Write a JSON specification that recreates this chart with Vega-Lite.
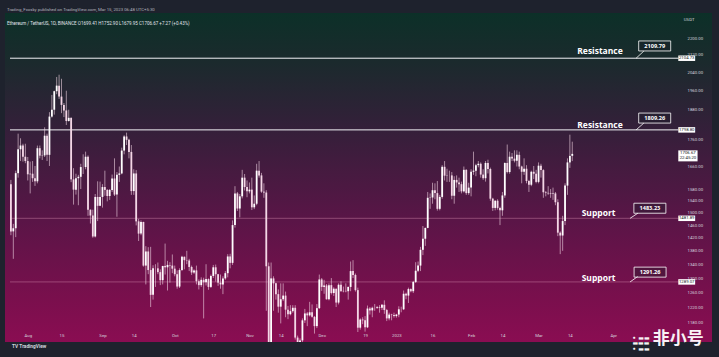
{
 "$schema": "https://vega.github.io/schema/vega-lite/v6.json",
 "width": 707,
 "height": 329,
 "autosize": {"type": "none"},
 "padding": {"left": 5, "top": 13, "right": 7, "bottom": 15},
 "background": "#1e222d",
 "view": {"stroke": null, "fill": {"gradient": "linear", "x1": 0, "y1": 0, "x2": 0, "y2": 1, "stops": [{"offset": 0, "color": "#0c3028"}, {"offset": 0.15, "color": "#1b2a2d"}, {"offset": 0.36, "color": "#351f3a"}, {"offset": 0.63, "color": "#5a1547"}, {"offset": 0.87, "color": "#7a0f4d"}, {"offset": 1, "color": "#8a0d52"}]}},
 "title": {"text": "Trading_Fxosky published on TradingView.com, Mar 15, 2023 06:48 UTC+5:30", "subtitle": "Ethereum / TetherUS, 1D, BINANCE   O1699.41  H1752.90  L1679.95  C1706.67  +7.27 (+0.43%)", "anchor": "start", "frame": "group", "offset": -12, "dx": 2, "font": "Roboto", "fontSize": 4.3, "fontWeight": "normal", "color": "#b2b5be", "subtitleFont": "Roboto", "subtitleFontSize": 4.5, "subtitleColor": "#e0e3eb", "subtitlePadding": 8},
 "datasets": {
  "candles": [
   {"d":"2022-07-25","o":1597,"h":1612,"l":1428,"c":1440},
   {"d":"2022-07-26","o":1440,"h":1464,"l":1356,"c":1450},
   {"d":"2022-07-27","o":1450,"h":1645,"l":1422,"c":1636},
   {"d":"2022-07-28","o":1636,"h":1784,"l":1620,"c":1724},
   {"d":"2022-07-29","o":1724,"h":1766,"l":1680,"c":1738},
   {"d":"2022-07-30","o":1738,"h":1745,"l":1678,"c":1696},
   {"d":"2022-07-31","o":1696,"h":1745,"l":1672,"c":1680},
   {"d":"2022-08-01","o":1680,"h":1695,"l":1610,"c":1632},
   {"d":"2022-08-02","o":1632,"h":1678,"l":1565,"c":1634},
   {"d":"2022-08-03","o":1634,"h":1680,"l":1605,"c":1618},
   {"d":"2022-08-04","o":1618,"h":1662,"l":1591,"c":1607},
   {"d":"2022-08-05","o":1607,"h":1738,"l":1600,"c":1728},
   {"d":"2022-08-06","o":1728,"h":1738,"l":1690,"c":1700},
   {"d":"2022-08-07","o":1700,"h":1720,"l":1684,"c":1701},
   {"d":"2022-08-08","o":1701,"h":1809,"l":1695,"c":1776},
   {"d":"2022-08-09","o":1776,"h":1784,"l":1680,"c":1703},
   {"d":"2022-08-10","o":1703,"h":1870,"l":1662,"c":1852},
   {"d":"2022-08-11","o":1852,"h":1942,"l":1848,"c":1880},
   {"d":"2022-08-12","o":1880,"h":1960,"l":1860,"c":1958},
   {"d":"2022-08-13","o":1958,"h":2020,"l":1945,"c":1982},
   {"d":"2022-08-14","o":1982,"h":2030,"l":1925,"c":1935},
   {"d":"2022-08-15","o":1935,"h":2012,"l":1866,"c":1900},
   {"d":"2022-08-16","o":1900,"h":1908,"l":1850,"c":1877},
   {"d":"2022-08-17","o":1877,"h":1960,"l":1818,"c":1834},
   {"d":"2022-08-18","o":1834,"h":1880,"l":1832,"c":1847},
   {"d":"2022-08-19","o":1847,"h":1848,"l":1604,"c":1614},
   {"d":"2022-08-20","o":1614,"h":1654,"l":1527,"c":1578},
   {"d":"2022-08-21","o":1578,"h":1634,"l":1561,"c":1618},
   {"d":"2022-08-22","o":1618,"h":1630,"l":1525,"c":1623},
   {"d":"2022-08-23","o":1623,"h":1670,"l":1580,"c":1658},
   {"d":"2022-08-24","o":1658,"h":1705,"l":1633,"c":1658},
   {"d":"2022-08-25","o":1658,"h":1715,"l":1650,"c":1696},
   {"d":"2022-08-26","o":1696,"h":1701,"l":1490,"c":1510},
   {"d":"2022-08-27","o":1510,"h":1511,"l":1465,"c":1491},
   {"d":"2022-08-28","o":1491,"h":1510,"l":1420,"c":1424},
   {"d":"2022-08-29","o":1424,"h":1563,"l":1421,"c":1553},
   {"d":"2022-08-30","o":1553,"h":1607,"l":1473,"c":1523},
   {"d":"2022-08-31","o":1523,"h":1606,"l":1522,"c":1553},
   {"d":"2022-09-01","o":1553,"h":1597,"l":1517,"c":1587},
   {"d":"2022-09-02","o":1587,"h":1645,"l":1557,"c":1577},
   {"d":"2022-09-03","o":1577,"h":1580,"l":1538,"c":1556},
   {"d":"2022-09-04","o":1556,"h":1580,"l":1543,"c":1577},
   {"d":"2022-09-05","o":1577,"h":1631,"l":1570,"c":1617},
   {"d":"2022-09-06","o":1617,"h":1690,"l":1556,"c":1561},
   {"d":"2022-09-07","o":1561,"h":1640,"l":1487,"c":1630},
   {"d":"2022-09-08","o":1630,"h":1660,"l":1605,"c":1635},
   {"d":"2022-09-09","o":1635,"h":1730,"l":1632,"c":1719},
   {"d":"2022-09-10","o":1719,"h":1778,"l":1705,"c":1773},
   {"d":"2022-09-11","o":1773,"h":1788,"l":1740,"c":1760},
   {"d":"2022-09-12","o":1760,"h":1764,"l":1690,"c":1714},
   {"d":"2022-09-13","o":1714,"h":1740,"l":1560,"c":1573},
   {"d":"2022-09-14","o":1573,"h":1650,"l":1560,"c":1635},
   {"d":"2022-09-15","o":1635,"h":1647,"l":1459,"c":1472},
   {"d":"2022-09-16","o":1472,"h":1480,"l":1410,"c":1433},
   {"d":"2022-09-17","o":1433,"h":1475,"l":1428,"c":1470},
   {"d":"2022-09-18","o":1470,"h":1471,"l":1333,"c":1336},
   {"d":"2022-09-19","o":1336,"h":1394,"l":1282,"c":1378},
   {"d":"2022-09-20","o":1378,"h":1391,"l":1311,"c":1323},
   {"d":"2022-09-21","o":1323,"h":1392,"l":1220,"c":1253},
   {"d":"2022-09-22","o":1253,"h":1337,"l":1240,"c":1328},
   {"d":"2022-09-23","o":1328,"h":1340,"l":1275,"c":1328},
   {"d":"2022-09-24","o":1328,"h":1345,"l":1311,"c":1317},
   {"d":"2022-09-25","o":1317,"h":1325,"l":1280,"c":1294},
   {"d":"2022-09-26","o":1294,"h":1335,"l":1282,"c":1335},
   {"d":"2022-09-27","o":1335,"h":1402,"l":1310,"c":1331},
   {"d":"2022-09-28","o":1331,"h":1350,"l":1265,"c":1338},
   {"d":"2022-09-29","o":1338,"h":1346,"l":1287,"c":1336},
   {"d":"2022-09-30","o":1336,"h":1369,"l":1314,"c":1327},
   {"d":"2022-10-01","o":1327,"h":1336,"l":1305,"c":1311},
   {"d":"2022-10-02","o":1311,"h":1322,"l":1270,"c":1276},
   {"d":"2022-10-03","o":1276,"h":1328,"l":1272,"c":1323},
   {"d":"2022-10-04","o":1323,"h":1365,"l":1320,"c":1362},
   {"d":"2022-10-05","o":1362,"h":1363,"l":1325,"c":1352},
   {"d":"2022-10-06","o":1352,"h":1380,"l":1340,"c":1351},
   {"d":"2022-10-07","o":1351,"h":1356,"l":1320,"c":1332},
   {"d":"2022-10-08","o":1332,"h":1336,"l":1309,"c":1316},
   {"d":"2022-10-09","o":1316,"h":1325,"l":1312,"c":1322},
   {"d":"2022-10-10","o":1322,"h":1336,"l":1282,"c":1291},
   {"d":"2022-10-11","o":1291,"h":1296,"l":1268,"c":1280},
   {"d":"2022-10-12","o":1280,"h":1302,"l":1275,"c":1295},
   {"d":"2022-10-13","o":1295,"h":1301,"l":1190,"c":1288},
   {"d":"2022-10-14","o":1288,"h":1340,"l":1279,"c":1297},
   {"d":"2022-10-15","o":1297,"h":1299,"l":1267,"c":1275},
   {"d":"2022-10-16","o":1275,"h":1310,"l":1272,"c":1306},
   {"d":"2022-10-17","o":1306,"h":1338,"l":1300,"c":1331},
   {"d":"2022-10-18","o":1331,"h":1339,"l":1290,"c":1311},
   {"d":"2022-10-19","o":1311,"h":1312,"l":1278,"c":1287},
   {"d":"2022-10-20","o":1287,"h":1310,"l":1270,"c":1282},
   {"d":"2022-10-21","o":1282,"h":1305,"l":1255,"c":1299},
   {"d":"2022-10-22","o":1299,"h":1320,"l":1295,"c":1314},
   {"d":"2022-10-23","o":1314,"h":1370,"l":1302,"c":1363},
   {"d":"2022-10-24","o":1363,"h":1371,"l":1328,"c":1344},
   {"d":"2022-10-25","o":1344,"h":1475,"l":1338,"c":1460},
   {"d":"2022-10-26","o":1460,"h":1590,"l":1452,"c":1565},
   {"d":"2022-10-27","o":1565,"h":1570,"l":1506,"c":1514},
   {"d":"2022-10-28","o":1514,"h":1563,"l":1485,"c":1555},
   {"d":"2022-10-29","o":1555,"h":1648,"l":1548,"c":1620},
   {"d":"2022-10-30","o":1620,"h":1633,"l":1575,"c":1587},
   {"d":"2022-10-31","o":1587,"h":1610,"l":1552,"c":1572},
   {"d":"2022-11-01","o":1572,"h":1603,"l":1565,"c":1578},
   {"d":"2022-11-02","o":1578,"h":1620,"l":1509,"c":1518},
   {"d":"2022-11-03","o":1518,"h":1558,"l":1512,"c":1530},
   {"d":"2022-11-04","o":1530,"h":1670,"l":1525,"c":1645},
   {"d":"2022-11-05","o":1645,"h":1680,"l":1620,"c":1628},
   {"d":"2022-11-06","o":1628,"h":1637,"l":1567,"c":1571},
   {"d":"2022-11-07","o":1571,"h":1600,"l":1550,"c":1568},
   {"d":"2022-11-08","o":1568,"h":1576,"l":1210,"c":1334},
   {"d":"2022-11-09","o":1334,"h":1345,"l":1073,"c":1102},
   {"d":"2022-11-10","o":1102,"h":1345,"l":1094,"c":1299},
   {"d":"2022-11-11","o":1299,"h":1305,"l":1210,"c":1285},
   {"d":"2022-11-12","o":1285,"h":1287,"l":1240,"c":1255},
   {"d":"2022-11-13","o":1255,"h":1268,"l":1205,"c":1221},
   {"d":"2022-11-14","o":1221,"h":1285,"l":1177,"c":1241},
   {"d":"2022-11-15","o":1241,"h":1285,"l":1236,"c":1251},
   {"d":"2022-11-16","o":1251,"h":1262,"l":1193,"c":1213},
   {"d":"2022-11-17","o":1213,"h":1223,"l":1188,"c":1201},
   {"d":"2022-11-18","o":1201,"h":1225,"l":1198,"c":1209},
   {"d":"2022-11-19","o":1209,"h":1225,"l":1205,"c":1218},
   {"d":"2022-11-20","o":1218,"h":1225,"l":1136,"c":1141},
   {"d":"2022-11-21","o":1141,"h":1146,"l":1073,"c":1108},
   {"d":"2022-11-22","o":1108,"h":1139,"l":1083,"c":1134},
   {"d":"2022-11-23","o":1134,"h":1190,"l":1130,"c":1185},
   {"d":"2022-11-24","o":1185,"h":1215,"l":1178,"c":1203},
   {"d":"2022-11-25","o":1203,"h":1207,"l":1170,"c":1198},
   {"d":"2022-11-26","o":1198,"h":1234,"l":1195,"c":1206},
   {"d":"2022-11-27","o":1206,"h":1227,"l":1192,"c":1194},
   {"d":"2022-11-28","o":1194,"h":1196,"l":1151,"c":1170},
   {"d":"2022-11-29","o":1170,"h":1228,"l":1165,"c":1217},
   {"d":"2022-11-30","o":1217,"h":1310,"l":1215,"c":1296},
   {"d":"2022-12-01","o":1296,"h":1300,"l":1264,"c":1275},
   {"d":"2022-12-02","o":1275,"h":1295,"l":1256,"c":1279},
   {"d":"2022-12-03","o":1279,"h":1283,"l":1240,"c":1241},
   {"d":"2022-12-04","o":1241,"h":1285,"l":1238,"c":1280},
   {"d":"2022-12-05","o":1280,"h":1300,"l":1254,"c":1258},
   {"d":"2022-12-06","o":1258,"h":1274,"l":1250,"c":1270},
   {"d":"2022-12-07","o":1270,"h":1270,"l":1220,"c":1232},
   {"d":"2022-12-08","o":1232,"h":1285,"l":1227,"c":1281},
   {"d":"2022-12-09","o":1281,"h":1291,"l":1262,"c":1263},
   {"d":"2022-12-10","o":1263,"h":1276,"l":1260,"c":1264},
   {"d":"2022-12-11","o":1264,"h":1285,"l":1260,"c":1263},
   {"d":"2022-12-12","o":1263,"h":1276,"l":1240,"c":1275},
   {"d":"2022-12-13","o":1275,"h":1348,"l":1263,"c":1320},
   {"d":"2022-12-14","o":1320,"h":1352,"l":1300,"c":1309},
   {"d":"2022-12-15","o":1309,"h":1313,"l":1262,"c":1266},
   {"d":"2022-12-16","o":1266,"h":1273,"l":1155,"c":1166},
   {"d":"2022-12-17","o":1166,"h":1190,"l":1161,"c":1187},
   {"d":"2022-12-18","o":1187,"h":1193,"l":1175,"c":1185},
   {"d":"2022-12-19","o":1185,"h":1196,"l":1156,"c":1167},
   {"d":"2022-12-20","o":1167,"h":1224,"l":1165,"c":1216},
   {"d":"2022-12-21","o":1216,"h":1220,"l":1200,"c":1211},
   {"d":"2022-12-22","o":1211,"h":1221,"l":1193,"c":1218},
   {"d":"2022-12-23","o":1218,"h":1228,"l":1210,"c":1218},
   {"d":"2022-12-24","o":1218,"h":1223,"l":1215,"c":1220},
   {"d":"2022-12-25","o":1220,"h":1225,"l":1205,"c":1218},
   {"d":"2022-12-26","o":1218,"h":1228,"l":1212,"c":1226},
   {"d":"2022-12-27","o":1226,"h":1238,"l":1202,"c":1212},
   {"d":"2022-12-28","o":1212,"h":1215,"l":1183,"c":1190},
   {"d":"2022-12-29","o":1190,"h":1205,"l":1185,"c":1200},
   {"d":"2022-12-30","o":1200,"h":1202,"l":1185,"c":1199},
   {"d":"2022-12-31","o":1199,"h":1205,"l":1192,"c":1196},
   {"d":"2023-01-01","o":1196,"h":1202,"l":1192,"c":1200},
   {"d":"2023-01-02","o":1200,"h":1222,"l":1193,"c":1214},
   {"d":"2023-01-03","o":1214,"h":1221,"l":1206,"c":1214},
   {"d":"2023-01-04","o":1214,"h":1265,"l":1212,"c":1256},
   {"d":"2023-01-05","o":1256,"h":1259,"l":1241,"c":1251},
   {"d":"2023-01-06","o":1251,"h":1273,"l":1231,"c":1269},
   {"d":"2023-01-07","o":1269,"h":1271,"l":1260,"c":1263},
   {"d":"2023-01-08","o":1263,"h":1292,"l":1258,"c":1289},
   {"d":"2023-01-09","o":1289,"h":1346,"l":1286,"c":1321},
   {"d":"2023-01-10","o":1321,"h":1348,"l":1317,"c":1336},
   {"d":"2023-01-11","o":1336,"h":1392,"l":1320,"c":1383},
   {"d":"2023-01-12","o":1383,"h":1457,"l":1367,"c":1417},
   {"d":"2023-01-13","o":1417,"h":1452,"l":1395,"c":1451},
   {"d":"2023-01-14","o":1451,"h":1570,"l":1450,"c":1550},
   {"d":"2023-01-15","o":1550,"h":1565,"l":1513,"c":1551},
   {"d":"2023-01-16","o":1551,"h":1602,"l":1530,"c":1576},
   {"d":"2023-01-17","o":1576,"h":1600,"l":1545,"c":1566},
   {"d":"2023-01-18","o":1566,"h":1608,"l":1507,"c":1513},
   {"d":"2023-01-19","o":1513,"h":1560,"l":1508,"c":1553},
   {"d":"2023-01-20","o":1553,"h":1665,"l":1547,"c":1659},
   {"d":"2023-01-21","o":1659,"h":1680,"l":1610,"c":1627},
   {"d":"2023-01-22","o":1627,"h":1652,"l":1605,"c":1628},
   {"d":"2023-01-23","o":1628,"h":1645,"l":1605,"c":1628},
   {"d":"2023-01-24","o":1628,"h":1640,"l":1545,"c":1557},
   {"d":"2023-01-25","o":1557,"h":1625,"l":1530,"c":1612},
   {"d":"2023-01-26","o":1612,"h":1628,"l":1585,"c":1603},
   {"d":"2023-01-27","o":1603,"h":1620,"l":1570,"c":1597},
   {"d":"2023-01-28","o":1597,"h":1606,"l":1565,"c":1572},
   {"d":"2023-01-29","o":1572,"h":1660,"l":1568,"c":1648},
   {"d":"2023-01-30","o":1648,"h":1650,"l":1560,"c":1566},
   {"d":"2023-01-31","o":1566,"h":1602,"l":1560,"c":1585},
   {"d":"2023-02-01","o":1585,"h":1650,"l":1555,"c":1641},
   {"d":"2023-02-02","o":1641,"h":1715,"l":1630,"c":1645},
   {"d":"2023-02-03","o":1645,"h":1670,"l":1625,"c":1665},
   {"d":"2023-02-04","o":1665,"h":1680,"l":1657,"c":1670},
   {"d":"2023-02-05","o":1670,"h":1675,"l":1620,"c":1631},
   {"d":"2023-02-06","o":1631,"h":1650,"l":1612,"c":1618},
   {"d":"2023-02-07","o":1618,"h":1680,"l":1606,"c":1673},
   {"d":"2023-02-08","o":1673,"h":1685,"l":1635,"c":1651},
   {"d":"2023-02-09","o":1651,"h":1656,"l":1540,"c":1547},
   {"d":"2023-02-10","o":1547,"h":1550,"l":1506,"c":1516},
   {"d":"2023-02-11","o":1516,"h":1542,"l":1508,"c":1540},
   {"d":"2023-02-12","o":1540,"h":1545,"l":1510,"c":1516},
   {"d":"2023-02-13","o":1516,"h":1520,"l":1460,"c":1508},
   {"d":"2023-02-14","o":1508,"h":1570,"l":1490,"c":1558},
   {"d":"2023-02-15","o":1558,"h":1675,"l":1550,"c":1673},
   {"d":"2023-02-16","o":1673,"h":1742,"l":1635,"c":1640},
   {"d":"2023-02-17","o":1640,"h":1715,"l":1634,"c":1696},
   {"d":"2023-02-18","o":1696,"h":1710,"l":1680,"c":1689},
   {"d":"2023-02-19","o":1689,"h":1720,"l":1675,"c":1681},
   {"d":"2023-02-20","o":1681,"h":1720,"l":1660,"c":1703},
   {"d":"2023-02-21","o":1703,"h":1715,"l":1650,"c":1660},
   {"d":"2023-02-22","o":1660,"h":1663,"l":1600,"c":1641},
   {"d":"2023-02-23","o":1641,"h":1690,"l":1630,"c":1652},
   {"d":"2023-02-24","o":1652,"h":1665,"l":1600,"c":1608},
   {"d":"2023-02-25","o":1608,"h":1612,"l":1570,"c":1595},
   {"d":"2023-02-26","o":1595,"h":1645,"l":1590,"c":1641},
   {"d":"2023-02-27","o":1641,"h":1662,"l":1615,"c":1634},
   {"d":"2023-02-28","o":1634,"h":1648,"l":1600,"c":1605},
   {"d":"2023-03-01","o":1605,"h":1675,"l":1600,"c":1663},
   {"d":"2023-03-02","o":1663,"h":1670,"l":1620,"c":1647},
   {"d":"2023-03-03","o":1647,"h":1650,"l":1550,"c":1569},
   {"d":"2023-03-04","o":1569,"h":1573,"l":1555,"c":1567},
   {"d":"2023-03-05","o":1567,"h":1590,"l":1560,"c":1565},
   {"d":"2023-03-06","o":1565,"h":1580,"l":1550,"c":1563},
   {"d":"2023-03-07","o":1563,"h":1585,"l":1543,"c":1565},
   {"d":"2023-03-08","o":1565,"h":1570,"l":1525,"c":1535},
   {"d":"2023-03-09","o":1535,"h":1545,"l":1425,"c":1436},
   {"d":"2023-03-10","o":1436,"h":1440,"l":1370,"c":1427},
   {"d":"2023-03-11","o":1427,"h":1490,"l":1380,"c":1473},
   {"d":"2023-03-12","o":1473,"h":1600,"l":1460,"c":1592},
   {"d":"2023-03-13","o":1592,"h":1690,"l":1560,"c":1675},
   {"d":"2023-03-14","o":1675,"h":1780,"l":1655,"c":1699},
   {"d":"2023-03-15","o":1699.41,"h":1752.9,"l":1679.95,"c":1706.67}
  ],
  "levels": [
   {"p": 2104.73, "k": "r"},
   {"p": 1798.8, "k": "r"},
   {"p": 1481.89, "k": "s"},
   {"p": 1289.07, "k": "s"}
  ],
  "callouts": [
   {"v": "2109.79", "n": "Resistance", "lvl": 2104.73, "td": "2023-04-18T05:00:00Z", "tp": 2162, "nd": "2023-03-26T12:00:00Z", "np": 2138, "pd": "2023-04-13T17:00:00Z", "pp": 2138, "qd": "2023-04-10T12:00:00Z"},
   {"v": "1809.26", "n": "Resistance", "lvl": 1798.8, "td": "2023-04-18T05:00:00Z", "tp": 1846, "nd": "2023-03-26T12:00:00Z", "np": 1818, "pd": "2023-04-13T17:00:00Z", "pp": 1826, "qd": "2023-04-10T12:00:00Z"},
   {"v": "1483.23", "n": "Support", "lvl": 1481.89, "td": "2023-04-16T05:00:00Z", "tp": 1515, "nd": "2023-03-25T22:00:00Z", "np": 1499, "pd": "2023-04-11T07:00:00Z", "pp": 1499, "qd": "2023-04-08T00:00:00Z"},
   {"v": "1291.26", "n": "Support", "lvl": 1289.07, "td": "2023-04-16T07:00:00Z", "tp": 1317, "nd": "2023-03-25T22:00:00Z", "np": 1300, "pd": "2023-04-11T07:00:00Z", "pp": 1305, "qd": "2023-04-08T00:00:00Z"}
  ],
  "tags": [
   {"t": "2104.73", "p": 2104.73},
   {"t": "1798.80", "p": 1798.8},
   {"t": "1481.89", "p": 1481.89},
   {"t": "1289.07", "p": 1289.07}
  ],
  "last": [
   {"t": "1706.67", "s": "22:45:20", "p": 1706.67}
  ],
  "notes": [
   {"k": "usdt", "t": "USDT", "d": "2023-05-02T12:00:00Z", "p": 2289},
   {"k": "tv", "t": "TV  TradingView", "d": "2022-07-25T12:00:00Z", "p": 1117},
   {"k": "wm", "t": "非小号", "d": "2023-04-28T00:00:00Z", "p": 1138},
   {"k": "icon", "t": "• ▬▬\n▬▬▬\n• ▬▬", "d": "2023-04-12T12:00:00Z", "p": 1140}
  ]
 },
 "layer": [
  {
   "data": {"name": "levels"},
   "transform": [{"filter": "datum.k == 'r'"}],
   "mark": {"type": "rule", "color": "#f2f2f6", "strokeWidth": 1},
   "encoding": {
    "y": {"field": "p", "type": "quantitative", "scale": {"type": "log", "domain": [1130, 2324], "nice": false},
     "axis": {"orient": "right", "offset": -28, "title": null, "grid": false, "ticks": false, "domain": false, "labelPadding": 3, "labelFontSize": 4.3, "labelFont": "Roboto", "labelColor": "#d6d6de", "labelAlign": "left", "labelOverlap": false, "labelFlush": false, "format": ".2f",
      "values": [1180, 1220, 1260, 1300, 1340, 1380, 1420, 1460, 1500, 1540, 1580, 1660, 1760, 1880, 1960, 2040, 2120, 2200]}},
    "x": {"datum": {"year": 2022, "month": 7, "date": 24, "hours": 15, "utc": true}, "type": "temporal", "scale": {"type": "utc", "domain": [{"year": 2022, "month": 7, "date": 24, "hours": 15, "utc": true}, {"year": 2023, "month": 5, "date": 9, "hours": 22, "utc": true}]},
     "axis": {"orient": "bottom", "offset": -9, "title": null, "grid": false, "ticks": false, "domain": false, "labelPadding": 0, "labelFontSize": 4.3, "labelFont": "Roboto", "labelColor": "#d6d6de", "labelOverlap": false, "labelFlush": false,
      "values": [{"year": 2022, "month": 8, "date": 1, "utc": true}, {"year": 2022, "month": 8, "date": 15, "utc": true}, {"year": 2022, "month": 9, "date": 1, "utc": true}, {"year": 2022, "month": 9, "date": 14, "utc": true}, {"year": 2022, "month": 10, "date": 1, "utc": true}, {"year": 2022, "month": 10, "date": 17, "utc": true}, {"year": 2022, "month": 11, "date": 1, "utc": true}, {"year": 2022, "month": 11, "date": 14, "utc": true}, {"year": 2022, "month": 12, "date": 1, "utc": true}, {"year": 2022, "month": 12, "date": 19, "utc": true}, {"year": 2023, "month": 1, "date": 1, "utc": true}, {"year": 2023, "month": 1, "date": 16, "utc": true}, {"year": 2023, "month": 2, "date": 1, "utc": true}, {"year": 2023, "month": 2, "date": 14, "utc": true}, {"year": 2023, "month": 3, "date": 1, "utc": true}, {"year": 2023, "month": 3, "date": 14, "utc": true}, {"year": 2023, "month": 4, "date": 1, "utc": true}],
      "labelExpr": "utcdate(datum.value) == 1 ? (utcmonth(datum.value) == 0 ? utcFormat(datum.value, '%Y') : utcFormat(datum.value, '%b')) : utcFormat(datum.value, '%d')"}},
    "x2": {"datum": {"year": 2023, "month": 4, "date": 28, "utc": true}}
   }
  },
  {
   "data": {"name": "levels"},
   "transform": [{"filter": "datum.k == 's'"}],
   "mark": {"type": "rule", "color": "#d58fb0", "strokeWidth": 0.8, "opacity": 0.55},
   "encoding": {
    "y": {"field": "p", "type": "quantitative", "scale": {"type": "log", "domain": [1130, 2324], "nice": false}},
    "x": {"datum": {"year": 2022, "month": 7, "date": 24, "hours": 15, "utc": true}, "type": "temporal", "scale": {"type": "utc", "domain": [{"year": 2022, "month": 7, "date": 24, "hours": 15, "utc": true}, {"year": 2023, "month": 5, "date": 9, "hours": 22, "utc": true}]}},
    "x2": {"datum": {"year": 2023, "month": 4, "date": 28, "utc": true}}
   }
  },
  {
   "data": {"name": "candles"},
   "mark": {"type": "rule", "color": "#f1d6e4", "strokeWidth": 0.7, "opacity": 0.85, "clip": true},
   "encoding": {
    "x": {"field": "d", "type": "temporal", "scale": {"type": "utc", "domain": [{"year": 2022, "month": 7, "date": 24, "hours": 15, "utc": true}, {"year": 2023, "month": 5, "date": 9, "hours": 22, "utc": true}]}},
    "y": {"field": "l", "type": "quantitative", "scale": {"type": "log", "domain": [1130, 2324], "nice": false}},
    "y2": {"field": "h"}
   }
  },
  {
   "data": {"name": "candles"},
   "mark": {"type": "bar", "size": 1.8, "clip": true},
   "encoding": {
    "x": {"field": "d", "type": "temporal", "scale": {"type": "utc", "domain": [{"year": 2022, "month": 7, "date": 24, "hours": 15, "utc": true}, {"year": 2023, "month": 5, "date": 9, "hours": 22, "utc": true}]}},
    "y": {"field": "o", "type": "quantitative", "scale": {"type": "log", "domain": [1130, 2324], "nice": false}},
    "y2": {"field": "c"},
    "color": {"condition": {"test": "datum.c >= datum.o", "value": "#ffffff"}, "value": "#f4d6e6"}
   }
  },
  {
   "data": {"name": "callouts"},
   "mark": {"type": "rule", "color": "#ffffff", "strokeWidth": 0.8},
   "encoding": {
    "x": {"field": "pd", "type": "temporal", "scale": {"type": "utc", "domain": [{"year": 2022, "month": 7, "date": 24, "hours": 15, "utc": true}, {"year": 2023, "month": 5, "date": 9, "hours": 22, "utc": true}]}},
    "x2": {"field": "qd"},
    "y": {"field": "pp", "type": "quantitative", "scale": {"type": "log", "domain": [1130, 2324], "nice": false}},
    "y2": {"field": "lvl"}
   }
  },
  {
   "data": {"name": "callouts"},
   "mark": {"type": "point", "shape": "M-1,-0.3125H1V0.3125H-1Z", "size": 1024, "filled": false, "fill": "#1a1d27", "fillOpacity": 0.35, "stroke": "#ffffff", "strokeWidth": 0.8, "opacity": 1},
   "encoding": {
    "x": {"field": "td", "type": "temporal", "scale": {"type": "utc", "domain": [{"year": 2022, "month": 7, "date": 24, "hours": 15, "utc": true}, {"year": 2023, "month": 5, "date": 9, "hours": 22, "utc": true}]}},
    "y": {"field": "tp", "type": "quantitative", "scale": {"type": "log", "domain": [1130, 2324], "nice": false}}
   }
  },
  {
   "data": {"name": "callouts"},
   "mark": {"type": "text", "color": "#ffffff", "font": "Open Sans", "fontWeight": "bold", "fontSize": 5.6, "align": "center", "baseline": "middle"},
   "encoding": {
    "x": {"field": "td", "type": "temporal", "scale": {"type": "utc", "domain": [{"year": 2022, "month": 7, "date": 24, "hours": 15, "utc": true}, {"year": 2023, "month": 5, "date": 9, "hours": 22, "utc": true}]}},
    "y": {"field": "tp", "type": "quantitative", "scale": {"type": "log", "domain": [1130, 2324], "nice": false}},
    "text": {"field": "v"}
   }
  },
  {
   "data": {"name": "callouts"},
   "mark": {"type": "text", "color": "#ffffff", "font": "Open Sans", "fontWeight": "bold", "fontSize": 8.5, "align": "center", "baseline": "middle"},
   "encoding": {
    "x": {"field": "nd", "type": "temporal", "scale": {"type": "utc", "domain": [{"year": 2022, "month": 7, "date": 24, "hours": 15, "utc": true}, {"year": 2023, "month": 5, "date": 9, "hours": 22, "utc": true}]}},
    "y": {"field": "np", "type": "quantitative", "scale": {"type": "log", "domain": [1130, 2324], "nice": false}},
    "text": {"field": "n"}
   }
  },
  {
   "data": {"name": "tags"},
   "mark": {"type": "rule", "color": "#ffffff", "strokeWidth": 5.5, "strokeCap": "butt"},
   "encoding": {
    "y": {"field": "p", "type": "quantitative", "scale": {"type": "log", "domain": [1130, 2324], "nice": false}},
    "x": {"datum": {"year": 2023, "month": 4, "date": 28, "utc": true}, "type": "temporal", "scale": {"type": "utc", "domain": [{"year": 2022, "month": 7, "date": 24, "hours": 15, "utc": true}, {"year": 2023, "month": 5, "date": 9, "hours": 22, "utc": true}]}},
    "x2": {"datum": {"year": 2023, "month": 5, "date": 5, "utc": true}}
   }
  },
  {
   "data": {"name": "tags"},
   "mark": {"type": "text", "color": "#131722", "font": "Roboto", "fontSize": 4.3, "align": "center", "baseline": "middle"},
   "encoding": {
    "y": {"field": "p", "type": "quantitative", "scale": {"type": "log", "domain": [1130, 2324], "nice": false}},
    "x": {"datum": {"year": 2023, "month": 5, "date": 1, "hours": 12, "utc": true}, "type": "temporal", "scale": {"type": "utc", "domain": [{"year": 2022, "month": 7, "date": 24, "hours": 15, "utc": true}, {"year": 2023, "month": 5, "date": 9, "hours": 22, "utc": true}]}},
    "text": {"field": "t"}
   }
  },
  {
   "data": {"name": "last"},
   "mark": {"type": "rule", "color": "#ffffff", "strokeWidth": 11, "strokeCap": "butt", "yOffset": 2},
   "encoding": {
    "y": {"field": "p", "type": "quantitative", "scale": {"type": "log", "domain": [1130, 2324], "nice": false}},
    "x": {"datum": {"year": 2023, "month": 4, "date": 28, "utc": true}, "type": "temporal", "scale": {"type": "utc", "domain": [{"year": 2022, "month": 7, "date": 24, "hours": 15, "utc": true}, {"year": 2023, "month": 5, "date": 9, "hours": 22, "utc": true}]}},
    "x2": {"datum": {"year": 2023, "month": 5, "date": 6, "utc": true}}
   }
  },
  {
   "data": {"name": "last"},
   "mark": {"type": "text", "color": "#131722", "font": "Roboto", "fontSize": 4.3, "align": "center", "baseline": "middle", "dy": -0.5},
   "encoding": {
    "y": {"field": "p", "type": "quantitative", "scale": {"type": "log", "domain": [1130, 2324], "nice": false}},
    "x": {"datum": {"year": 2023, "month": 5, "date": 2, "utc": true}, "type": "temporal", "scale": {"type": "utc", "domain": [{"year": 2022, "month": 7, "date": 24, "hours": 15, "utc": true}, {"year": 2023, "month": 5, "date": 9, "hours": 22, "utc": true}]}},
    "text": {"field": "t"}
   }
  },
  {
   "data": {"name": "last"},
   "mark": {"type": "text", "color": "#131722", "font": "Roboto", "fontSize": 4.3, "align": "center", "baseline": "middle", "dy": 4.5},
   "encoding": {
    "y": {"field": "p", "type": "quantitative", "scale": {"type": "log", "domain": [1130, 2324], "nice": false}},
    "x": {"datum": {"year": 2023, "month": 5, "date": 2, "utc": true}, "type": "temporal", "scale": {"type": "utc", "domain": [{"year": 2022, "month": 7, "date": 24, "hours": 15, "utc": true}, {"year": 2023, "month": 5, "date": 9, "hours": 22, "utc": true}]}},
    "text": {"field": "s"}
   }
  },
  {
   "data": {"name": "notes"},
   "transform": [{"filter": "datum.k == 'usdt'"}],
   "mark": {"type": "text", "color": "#d6d6de", "font": "Roboto", "fontSize": 4.3, "align": "center", "baseline": "middle"},
   "encoding": {
    "x": {"field": "d", "type": "temporal", "scale": {"type": "utc", "domain": [{"year": 2022, "month": 7, "date": 24, "hours": 15, "utc": true}, {"year": 2023, "month": 5, "date": 9, "hours": 22, "utc": true}]}},
    "y": {"field": "p", "type": "quantitative", "scale": {"type": "log", "domain": [1130, 2324], "nice": false}},
    "text": {"field": "t"}
   }
  },
  {
   "data": {"name": "notes"},
   "transform": [{"filter": "datum.k == 'tv'"}],
   "mark": {"type": "text", "color": "#d1d4dc", "font": "Roboto", "fontSize": 4.8, "fontWeight": "bold", "align": "left", "baseline": "middle"},
   "encoding": {
    "x": {"field": "d", "type": "temporal", "scale": {"type": "utc", "domain": [{"year": 2022, "month": 7, "date": 24, "hours": 15, "utc": true}, {"year": 2023, "month": 5, "date": 9, "hours": 22, "utc": true}]}},
    "y": {"field": "p", "type": "quantitative", "scale": {"type": "log", "domain": [1130, 2324], "nice": false}},
    "text": {"field": "t"}
   }
  },
  {
   "data": {"name": "notes"},
   "transform": [{"filter": "datum.k == 'wm'"}],
   "mark": {"type": "text", "color": "#ffffff", "font": "Noto Sans CJK SC", "fontSize": 17, "fontWeight": "bold", "align": "center", "baseline": "middle", "opacity": 0.95},
   "encoding": {
    "x": {"field": "d", "type": "temporal", "scale": {"type": "utc", "domain": [{"year": 2022, "month": 7, "date": 24, "hours": 15, "utc": true}, {"year": 2023, "month": 5, "date": 9, "hours": 22, "utc": true}]}},
    "y": {"field": "p", "type": "quantitative", "scale": {"type": "log", "domain": [1130, 2324], "nice": false}},
    "text": {"field": "t"}
   }
  },
  {
   "data": {"name": "notes"},
   "transform": [{"filter": "datum.k == 'icon'"}],
   "mark": {"type": "text", "color": "#ffffff", "font": "DejaVu Sans", "fontSize": 6, "fontWeight": "bold", "align": "center", "baseline": "middle", "lineBreak": "\n", "lineHeight": 5.5, "opacity": 0.95},
   "encoding": {
    "x": {"field": "d", "type": "temporal", "scale": {"type": "utc", "domain": [{"year": 2022, "month": 7, "date": 24, "hours": 15, "utc": true}, {"year": 2023, "month": 5, "date": 9, "hours": 22, "utc": true}]}},
    "y": {"field": "p", "type": "quantitative", "scale": {"type": "log", "domain": [1130, 2324], "nice": false}},
    "text": {"field": "t"}
   }
  }
 ],
 "config": {"font": "Roboto"}
}
